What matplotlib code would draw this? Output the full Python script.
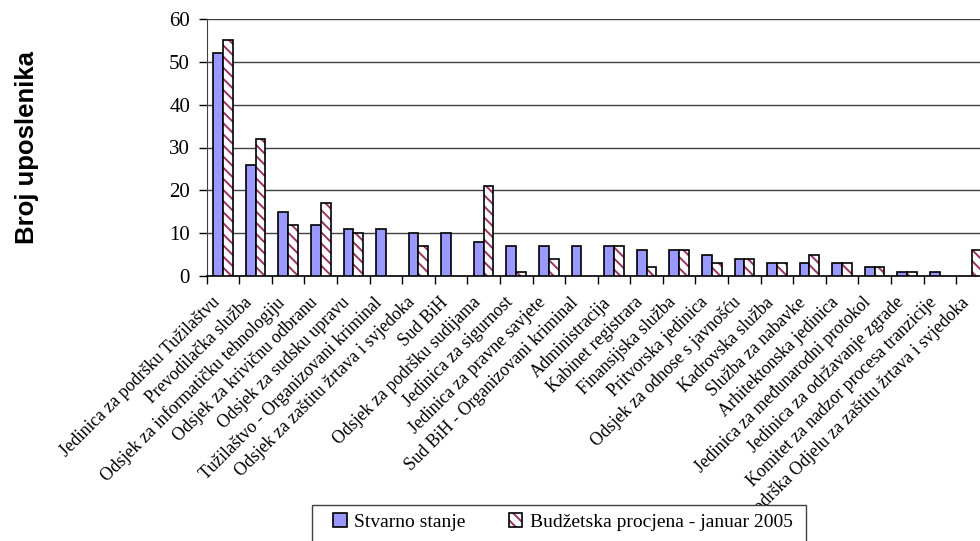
import matplotlib
matplotlib.use("Agg")
import matplotlib.pyplot as plt
import numpy as np
from matplotlib.patches import Patch, Rectangle

categories = [
    "Jedinica za podršku Tužilaštvu",
    "Prevodilačka služba",
    "Odsjek za informatičku tehnologiju",
    "Odsjek za krivičnu odbranu",
    "Odsjek za sudsku upravu",
    "Tužilaštvo - Organizovani kriminal",
    "Odsjek za zaštitu žrtava i svjedoka",
    "Sud BiH",
    "Odsjek za podršku sudijama",
    "Jedinica za sigurnost",
    "Jedinica za pravne savjete",
    "Sud BiH - Organizovani kriminal",
    "Administracija",
    "Kabinet registrara",
    "Finansijska služba",
    "Pritvorska jedinica",
    "Odsjek za odnose s javnošću",
    "Kadrovska služba",
    "Služba za nabavke",
    "Arhitektonska jedinica",
    "Jedinica za međunarodni protokol",
    "Jedinica za održavanje zgrade",
    "Komitet za nadzor procesa tranzicije",
    "Podrška Odjelu za zaštitu žrtava i svjedoka",
]
stvarno = [52, 26, 15, 12, 11, 11, 10, 10, 8, 7, 7, 7, 7, 6, 6, 5, 4, 3, 3, 3, 2, 1, 1, 0]
budzet = [55, 32, 12, 17, 10, 0, 7, 0, 21, 1, 4, 0, 7, 2, 6, 3, 4, 3, 5, 3, 2, 1, 0, 6]
series_names = ["Stvarno stanje", "Budžetska procjena - januar 2005"]
yticks = [0, 10, 20, 30, 40, 50, 60]

BLUE = '#9999FF'
HATCH_C = '#993366'
HATCH = '\\\\\\'

plt.rcParams['font.family'] = ['Liberation Serif', 'DejaVu Serif']
plt.rcParams['hatch.linewidth'] = 1.4

fig = plt.figure(figsize=(9.8, 5.41), dpi=100)
ax = fig.add_axes([206.7 / 980, 1 - 276 / 541, 782 / 980, 257 / 541])

x = np.arange(len(categories))
w = 0.3
b1 = ax.bar(x - w / 2, stvarno, w, color=BLUE, edgecolor='black', linewidth=1.2, zorder=3)
b2h = ax.bar(x + w / 2, budzet, w, facecolor='white', edgecolor=HATCH_C, linewidth=0,
             hatch=HATCH, zorder=3)
b2e = ax.bar(x + w / 2, budzet, w, fill=False, edgecolor='black', linewidth=1.2, zorder=4)
for p in list(b1) + list(b2h) + list(b2e):
    if p.get_height() == 0:
        p.set_visible(False)

ax.set_xlim(-0.5, len(categories) - 0.5)
ax.set_ylim(0, 60)
ax.set_yticks(yticks)
ax.yaxis.grid(True, color='#404040', linewidth=1.0, zorder=0)
ax.set_axisbelow(True)
ax.tick_params(axis='y', direction='out', length=6, width=1, pad=6, labelsize=15)

ax.set_xticks(np.arange(len(categories) + 1) - 0.5, minor=False)
ax.set_xticklabels([])
ax.tick_params(axis='x', which='major', direction='out', length=6, width=1)
ax.set_xticks(x, minor=True)
ax.set_xticklabels(categories, minor=True, rotation=45, ha='right', va='top',
                   rotation_mode='default', fontsize=12.8)
ax.tick_params(axis='x', which='minor', length=0, pad=13)

for s in ['top', 'right']:
    ax.spines[s].set_visible(False)
ax.spines['left'].set_color('#404040')
ax.spines['bottom'].set_color('black')
ax.spines['bottom'].set_linewidth(1.2)

fig.text(27 / 980, 1 - 147 / 541, "Broj uposlenika", rotation=90, ha='center', va='center',
         family=['Liberation Sans', 'DejaVu Sans'], fontweight='bold', fontsize=18.5)

# legend frame
frame = Rectangle((312 / 980, 1 - 548 / 541), (806 - 312) / 980, 43 / 541,
                  transform=fig.transFigure, facecolor='white', edgecolor='#404040',
                  linewidth=1.0, zorder=5)
fig.patches.append(frame)

handles = [Patch(facecolor=BLUE, edgecolor='black', linewidth=1.2),
           (Patch(facecolor='white', edgecolor=HATCH_C, linewidth=0, hatch=HATCH),
            Patch(fill=False, edgecolor='black', linewidth=1.2))]
leg = fig.legend(handles, series_names, loc='upper left',
                 bbox_to_anchor=(333 / 980, 1 - 513 / 541), ncol=2, fontsize=14,
                 frameon=False, handlelength=0.7, handleheight=0.7, handletextpad=0.4,
                 columnspacing=2.2, borderpad=0, borderaxespad=0)
leg.set_zorder(10)

fig.savefig("out.png", dpi=100)
